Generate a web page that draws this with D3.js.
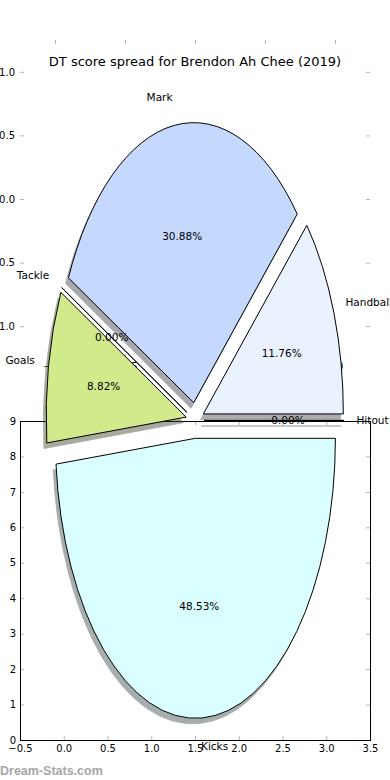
<!DOCTYPE html>
<html><head><meta charset="utf-8">
<script src="https://cdn.jsdelivr.net/npm/d3@7"></script>
<style>html,body{margin:0;padding:0;background:#fff;} svg{display:block;font-family:"DejaVu Sans",sans-serif;}</style>
</head><body><svg id="c" width="390" height="780"></svg>
<script>
// ---- data ----
const categories = ["Hitout", "Handball", "Mark", "Tackle", "Goals", "Kicks"];
const counts = [0, 8, 21, 0, 6, 33];
const sliceColors = ["#ffffff", "#eaf2ff", "#c5d9ff", "#ffffff", "#d0ea8c", "#d9ffff"];
const explode = [0.064, 0.064, 0.064, 0.064, 0.064, 0.064];
const pieTicks = [-1, -0.5, 0, 0.5, 1];
const xTicks = [-0.5, 0, 0.5, 1, 1.5, 2, 2.5, 3, 3.5];
const yTicks = [0, 1, 2, 3, 4, 5, 6, 7, 8, 9];
const title = "DT score spread for Brendon Ah Chee (2019)";
const watermark = "Dream-Stats.com";

const svg = d3.select("#c");
const tickColor = "#b4b4b4";
const fmt = d3.format(".1f");
const noLabel = () => "";
function styleAxis(g) {
  g.attr("font-family", "DejaVu Sans").attr("font-size", 10);
  g.select(".domain").remove();
  g.selectAll(".tick line").attr("stroke", tickColor);
  g.selectAll(".tick text").attr("fill", "#000");
}

// ---- background (pie) axes ----
const pX = d3.scaleLinear().domain([-1.25, 1.25]).range([20, 370]);
const pY = d3.scaleLinear().domain([-1.25, 1.25]).range([358, 40]);
svg.append("g").attr("transform", "translate(0,358)")
  .call(d3.axisBottom(pX).tickValues(pieTicks).tickFormat(fmt).tickSizeInner(-4).tickSizeOuter(0).tickPadding(5)).call(styleAxis);
svg.append("g").attr("transform", "translate(0,40)")
  .call(d3.axisTop(pX).tickValues(pieTicks).tickFormat(noLabel).tickSizeInner(-4).tickSizeOuter(0)).call(styleAxis);
svg.append("g").attr("transform", "translate(20,0)")
  .call(d3.axisLeft(pY).tickValues(pieTicks).tickFormat(fmt).tickSizeInner(-4).tickSizeOuter(0).tickPadding(5)).call(styleAxis);
svg.append("g").attr("transform", "translate(370,0)")
  .call(d3.axisRight(pY).tickValues(pieTicks).tickFormat(noLabel).tickSizeInner(-4).tickSizeOuter(0)).call(styleAxis);

// ---- lower axes ----
const lX = d3.scaleLinear().domain([-0.5, 3.5]).range([20, 370]);
const lY = d3.scaleLinear().domain([0, 9]).range([740, 421]);
svg.append("g").attr("transform", "translate(0,740)")
  .call(d3.axisBottom(lX).tickValues(xTicks).tickFormat(fmt).tickSizeInner(-4).tickSizeOuter(0).tickPadding(5)).call(styleAxis);
svg.append("g").attr("transform", "translate(0,421)")
  .call(d3.axisTop(lX).tickValues(xTicks).tickFormat(noLabel).tickSizeInner(-4).tickSizeOuter(0)).call(styleAxis);
svg.append("g").attr("transform", "translate(20,0)")
  .call(d3.axisLeft(lY).tickValues(yTicks).tickFormat(d3.format("d")).tickSizeInner(-4).tickSizeOuter(0).tickPadding(4)).call(styleAxis);
svg.append("g").attr("transform", "translate(370,0)")
  .call(d3.axisRight(lY).tickValues(yTicks).tickFormat(noLabel).tickSizeInner(-4).tickSizeOuter(0)).call(styleAxis);
svg.append("rect")
  .attr("x", lX(-0.5)).attr("y", lY(9)).attr("width", lX(3.5) - lX(-0.5)).attr("height", lY(0) - lY(9))
  .attr("fill", "none").attr("stroke", "#000").attr("stroke-width", 1).attr("shape-rendering", "crispEdges");

// ---- pie wedges ----
const arcs = d3.pie().sort(null).value(d => d)(counts);
const total = d3.sum(counts);
const wX = pX; // unit radius horizontally
const wY = d3.scaleLinear().domain([0, 1]).range([420.4, 140.4]); // unit radius vertically
const rx = wX(1) - wX(0), ry = wY(0) - wY(1);
function pt(ux, uy, ox, oy) { return [wX(ux) + ox, wY(uy) + oy]; }
function wedgePath(a, e, ox, oy) {
  const t1 = a.startAngle, t2 = a.endAngle, tm = (t1 + t2) / 2;
  const ex = e * Math.cos(tm), ey = e * Math.sin(tm);
  const p0 = pt(ex, ey, ox, oy);
  const p1 = pt(ex + Math.cos(t1), ey + Math.sin(t1), ox, oy);
  const p2 = pt(ex + Math.cos(t2), ey + Math.sin(t2), ox, oy);
  let d = `M${p0[0]},${p0[1]}L${p1[0]},${p1[1]}`;
  if (t2 > t1) d += `A${rx},${ry} 0 ${t2 - t1 > Math.PI ? 1 : 0} 0 ${p2[0]},${p2[1]}`;
  return d + "Z";
}
const sox = wX(-0.02) - wX(0), soy = wY(-0.02) - wY(0);
function shadowColor(c) { const r = d3.rgb(c); return d3.rgb(r.r * 0.3, r.g * 0.3, r.b * 0.3).toString(); }

svg.append("g").selectAll("path").data(arcs).join("path")
  .attr("d", (a, i) => wedgePath(a, explode[i], sox, soy))
  .attr("fill", (a, i) => shadowColor(sliceColors[i]))
  .attr("stroke", (a, i) => shadowColor(sliceColors[i]))
  .attr("stroke-width", 0.8)
  .attr("opacity", 0.45);
svg.append("g").selectAll("path").data(arcs).join("path")
  .attr("d", (a, i) => wedgePath(a, explode[i], 0, 0))
  .attr("fill", (a, i) => sliceColors[i])
  .attr("stroke", "#000").attr("stroke-width", 1).attr("stroke-linejoin", "miter");

// ---- texts ----
const tg = svg.append("g").attr("font-family", "DejaVu Sans").attr("font-size", 10.5).attr("fill", "#000");
arcs.forEach((a, i) => {
  const tm = (a.startAngle + a.endAngle) / 2, e = explode[i];
  const ex = e * Math.cos(tm), ey = e * Math.sin(tm);
  const pctPos = pt(ex + 0.6 * Math.cos(tm), ey + 0.6 * Math.sin(tm), 0, 0);
  tg.append("text").attr("x", pctPos[0]).attr("y", pctPos[1]).attr("dy", "0.35em")
    .attr("text-anchor", "middle").text(d3.format(".2f")(counts[i] / total * 100) + "%");
  const lx = ex + 1.1 * Math.cos(tm), ly = ey + 1.1 * Math.sin(tm);
  const lp = pt(lx, ly, 0, 0);
  tg.append("text").attr("x", lp[0] + (lx > 0 ? -1.5 : 0)).attr("y", lp[1]).attr("dy", "0.35em")
    .attr("text-anchor", lx > 0 ? "start" : "end").text(categories[i]);
});

svg.append("text").attr("x", 195).attr("y", 65.5).attr("text-anchor", "middle")
  .attr("font-family", "DejaVu Sans").attr("font-size", 13).attr("fill", "#000").text(title);
svg.append("text").attr("x", 0).attr("y", 775)
  .attr("font-family", "Liberation Sans").attr("font-weight", "bold").attr("font-size", 12.5)
  .attr("fill", "#a6a6a6").text(watermark);
</script></body></html>
